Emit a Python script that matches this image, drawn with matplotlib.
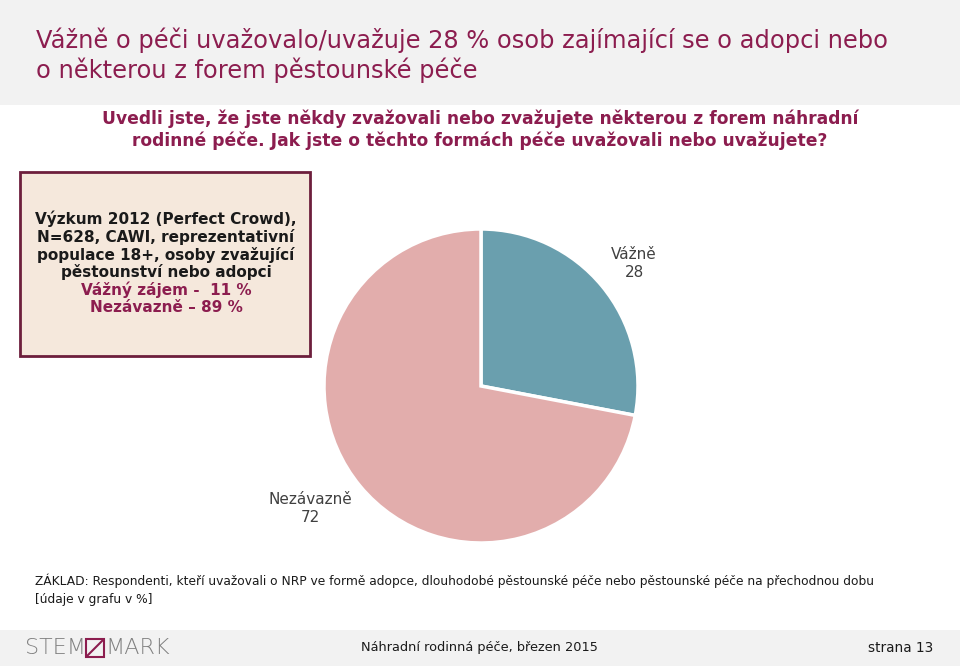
import matplotlib
matplotlib.use("Agg")
import matplotlib.pyplot as plt
from matplotlib.patches import Rectangle

# Data
categories = ["Vážně", "Nezávazně"]
values = [28, 72]
colors = ["#6a9fae", "#e2adac"]

title_lines = ["Vážně o péči uvažovalo/uvažuje 28 % osob zajímající se o adopci nebo",
               "o některou z forem pěstounské péče"]
subtitle_lines = ["Uvedli jste, že jste někdy zvažovali nebo zvažujete některou z forem náhradní",
                  "rodinné péče. Jak jste o těchto formách péče uvažovali nebo uvažujete?"]
box_black = ["Výzkum 2012 (Perfect Crowd),", "N=628, CAWI, reprezentativní",
             "populace 18+, osoby zvažující", "pěstounství nebo adopci"]
box_red = ["Vážný zájem -  11 %", "Nezávazně – 89 %"]
base_lines = ["ZÁKLAD: Respondenti, kteří uvažovali o NRP ve formě adopce, dlouhodobé pěstounské péče nebo pěstounské péče na přechodnou dobu",
              "[údaje v grafu v %]"]
footer_center = "Náhradní rodinná péče, březen 2015"
footer_right = "strana 13"

W, H = 960, 666
MAROON = "#8c1d4f"
fig = plt.figure(figsize=(W / 100, H / 100), dpi=100)
fig.patch.set_facecolor("white")

def fx(x):
    return x / W

def fy(y):
    return 1 - y / H

# header band
fig.patches.append(Rectangle((0, fy(105)), 1, 105 / H, transform=fig.transFigure,
                             facecolor="#f2f2f2", edgecolor="none", zorder=0))
# footer band
fig.patches.append(Rectangle((0, 0), 1, 36 / H, transform=fig.transFigure,
                             facecolor="#f2f2f2", edgecolor="none", zorder=0))

for i, line in enumerate(title_lines):
    fig.text(fx(36), fy(40 + i * 30), line, color=MAROON, fontsize=17.4,
             family="DejaVu Sans", va="center", ha="left")

for i, line in enumerate(subtitle_lines):
    fig.text(fx(480), fy(119 + i * 22), line, color=MAROON, fontsize=12.3,
             fontweight="bold", family="DejaVu Sans", va="center", ha="center")

# info box
fig.patches.append(Rectangle((fx(20), fy(356)), 290 / W, 184 / H, transform=fig.transFigure,
                             facecolor="#f5e8dc", edgecolor="#6d1e3c", linewidth=2, zorder=1))
box_lines = [(t, "#1a1a1a") for t in box_black] + [(t, MAROON) for t in box_red]
for i, (t, c) in enumerate(box_lines):
    fig.text(fx(166), fy(219 + i * 17.8), t, color=c, fontsize=11, fontweight="bold",
             family="DejaVu Sans", va="center", ha="center", zorder=2)

# pie
r = 157
cx, cy = 481, 386
ax = fig.add_axes([fx(cx - r), fy(cy + r), 2 * r / W, 2 * r / H])
ax.pie(values, colors=colors, startangle=90, counterclock=False,
       wedgeprops=dict(edgecolor="white", linewidth=2.5))
ax.set_xlim(-1, 1)
ax.set_ylim(-1, 1)
ax.set_aspect("auto")
ax.axis("off")

fig.text(fx(634), fy(264), f"{categories[0]}\n{values[0]}", color="#404040", fontsize=11,
         family="DejaVu Sans", ha="center", va="center", linespacing=1.25)
fig.text(fx(310), fy(509), f"{categories[1]}\n{values[1]}", color="#404040", fontsize=11,
         family="DejaVu Sans", ha="center", va="center", linespacing=1.25)

for i, line in enumerate(base_lines):
    fig.text(fx(35), fy(581 + i * 18), line, color="#1a1a1a", fontsize=8.8,
             family="DejaVu Sans", va="center", ha="left")

# footer
fig.text(fx(25), fy(648), "STEM", color="#808080", fontsize=16, family="DejaVu Sans",
         va="center", ha="left", fontweight="light")
fig.patches.append(Rectangle((fx(86), fy(657)), 18 / W, 18 / H, transform=fig.transFigure,
                             facecolor="none", edgecolor=MAROON, linewidth=1.5, zorder=3))
fig.lines.append(plt.Line2D([fx(87), fx(103)], [fy(656), fy(640)], transform=fig.transFigure,
                            color=MAROON, linewidth=1.5))
fig.text(fx(105), fy(648), "MARK", color="#808080", fontsize=16, family="DejaVu Sans",
         va="center", ha="left", fontweight="light")
fig.text(fx(479), fy(648), footer_center, color="#1a1a1a", fontsize=9.3,
         family="DejaVu Sans", va="center", ha="center")
fig.text(fx(933), fy(648), footer_right, color="#1a1a1a", fontsize=9.8,
         family="DejaVu Sans", va="center", ha="right")

fig.savefig("out.png", dpi=100, facecolor=fig.get_facecolor())
